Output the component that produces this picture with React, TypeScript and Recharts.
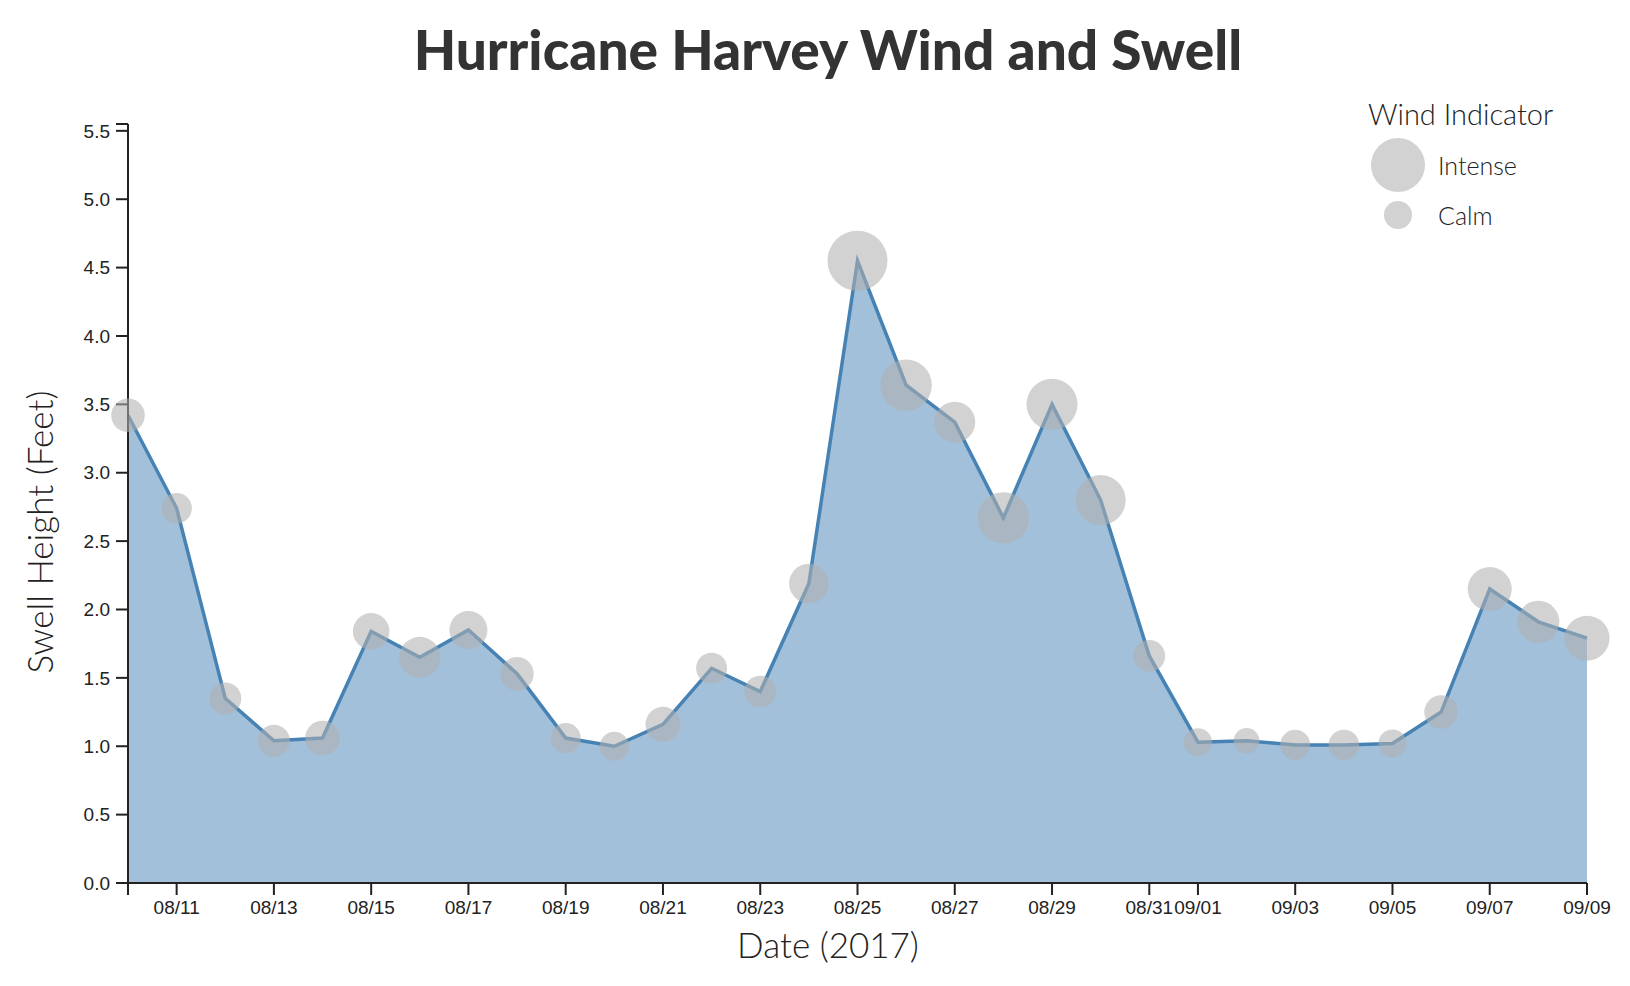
import React from "react";
import {
  ComposedChart,
  Area,
  Scatter,
  XAxis,
  YAxis,
  ZAxis,
} from "recharts";

// one entry per day, 08/10 .. 09/09
const dates = [
  "08/10", "08/11", "08/12", "08/13", "08/14", "08/15", "08/16", "08/17",
  "08/18", "08/19", "08/20", "08/21", "08/22", "08/23", "08/24", "08/25",
  "08/26", "08/27", "08/28", "08/29", "08/30", "08/31", "09/01", "09/02",
  "09/03", "09/04", "09/05", "09/06", "09/07", "09/08", "09/09",
];

// swell height, feet
const swell = [
  3.42, 2.74, 1.35, 1.04, 1.06, 1.84, 1.65, 1.85, 1.53, 1.06, 1.0, 1.16,
  1.57, 1.4, 2.19, 4.55, 3.64, 3.37, 2.67, 3.5, 2.8, 1.66, 1.03, 1.04,
  1.01, 1.01, 1.02, 1.25, 2.15, 1.91, 1.79,
];

// wind speed (mph), drives the bubble size
const wind = [
  14.1, 11.7, 12.8, 12.8, 15.0, 16.7, 21.0, 18.1, 13.9, 11.3, 10.5, 15.3,
  12.0, 12.5, 19.6, 45.0, 33.0, 21.0, 33.0, 32.5, 31.3, 12.6, 9.8, 8.2,
  11.3, 11.6, 9.8, 14.1, 24.2, 22.1, 25.3,
];

const xTicks = [0, 1, 3, 5, 7, 9, 11, 13, 15, 17, 19, 21, 22, 24, 26, 28, 30];
const yTicks = [0, 0.5, 1, 1.5, 2, 2.5, 3, 3.5, 4, 4.5, 5, 5.5, 5.55];

const legendItems = [
  { label: "Intense", wind: 36.5 },
  { label: "Calm", wind: 9.8 },
];

const WIND_MAX = 45;
const R_MAX = 30;
const bubbleR = (w: number) => R_MAX * Math.sqrt(w / WIND_MAX);

const data = dates.map((d, i) => ({ day: i, date: d, swell: swell[i], wind: wind[i] }));

const tickFont = { fontFamily: "'Liberation Sans', Arial, sans-serif", fontSize: 19, fill: "#222" };
const axisLine = { stroke: "#222", strokeWidth: 2 };
const bubbleFill = "#b0b0b0";
const labelFont = { fontFamily: "Lato, sans-serif", fontWeight: 300, fontSize: 35, fill: "#222" };

export default function App() {
  return (
    <div style={{ position: "absolute", left: 0, top: 0 }}>
      <ComposedChart
        width={1630}
        height={986}
        data={data}
        margin={{ top: 124, right: 43, bottom: 0, left: 0 }}
      >
        <XAxis
          dataKey="day"
          type="number"
          domain={[0, 30]}
          ticks={xTicks}
          interval={0}
          tickFormatter={(v: number) => (v === 0 ? "" : dates[v])}
          height={103}
          tickSize={12}
          tickMargin={6}
          tick={tickFont}
          axisLine={axisLine}
          tickLine={axisLine}
        />
        <YAxis
          type="number"
          domain={[0, 5.55]}
          ticks={yTicks}
          interval={0}
          tickFormatter={(v: number) => (v === 5.55 ? "" : v.toFixed(1))}
          width={128}
          tickSize={12}
          tickMargin={6}
          tick={tickFont}
          axisLine={axisLine}
          tickLine={axisLine}
        />
        <ZAxis dataKey="wind" type="number" domain={[0, WIND_MAX]} range={[0, Math.PI * R_MAX * R_MAX]} />
        <Area
          type="linear"
          dataKey="swell"
          stroke="#4682b4"
          strokeWidth={3.5}
          fill="#4682b4"
          fillOpacity={0.5}
          isAnimationActive={false}
          dot={false}
          activeDot={false}
        />
        <Scatter
          dataKey="swell"
          fill={bubbleFill}
          fillOpacity={0.57}
          isAnimationActive={false}
        />

        <text
          x={828}
          y={70}
          textAnchor="middle"
          style={{ fontFamily: "Lato, sans-serif", fontWeight: 900, fontSize: 55, fill: "#333" }}
        >
          Hurricane Harvey Wind and Swell
        </text>
        <text x={828} y={958} textAnchor="middle" style={labelFont}>
          Date (2017)
        </text>
        <text transform="translate(53, 532) rotate(-90)" textAnchor="middle" style={labelFont}>
          Swell Height (Feet)
        </text>

        <text
          x={1368}
          y={125}
          style={{ fontFamily: "Lato, sans-serif", fontWeight: 300, fontSize: 29, fill: "#222" }}
        >
          Wind Indicator
        </text>
        {legendItems.map((it, i) => (
          <g key={it.label}>
            <circle cx={1398} cy={165 + i * 50} r={bubbleR(it.wind)} fill={bubbleFill} fillOpacity={0.57} />
            <text
              x={1438}
              y={175 + i * 50}
              style={{ fontFamily: "Lato, sans-serif", fontWeight: 300, fontSize: 25, fill: "#222" }}
            >
              {it.label}
            </text>
          </g>
        ))}
      </ComposedChart>
    </div>
  );
}
